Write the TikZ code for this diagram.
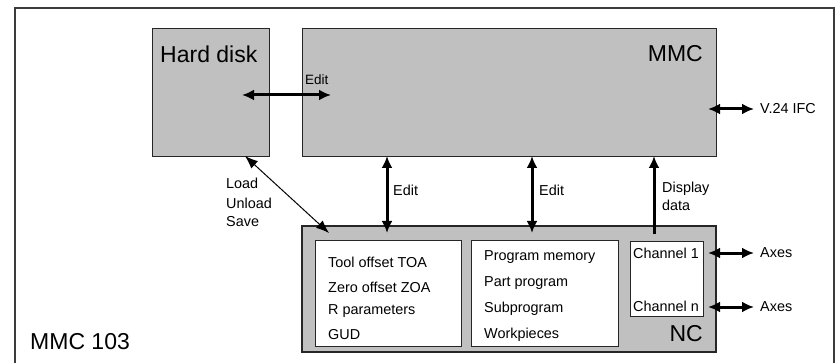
\documentclass[tikz,border=0pt]{standalone}
\usepackage{fontspec}
\setmainfont{Liberation Sans}
\usetikzlibrary{arrows.meta}
\definecolor{boxgray}{RGB}{192,192,192}
\definecolor{framegray}{RGB}{60,60,60}
\tikzset{
  graybox/.style={draw=black!85, fill=boxgray, line width=1pt},
  whitebox/.style={draw=black!85, fill=white, line width=1pt},
  bigtxt/.style={font=\fontsize{23}{26}\selectfont, inner sep=0pt},
  smalltxt/.style={font=\fontsize{14.4}{16}\selectfont, inner sep=0pt, anchor=west},
  thickarrow/.style={line width=3pt, {Latex[length=12pt,width=11pt]}-{Latex[length=12pt,width=11pt]}},
  thickone/.style={line width=3pt, -{Latex[length=12pt,width=11pt]}},
  thinarrow/.style={line width=1pt, {Latex[length=13pt,width=10pt]}-{Latex[length=13pt,width=10pt]}}
}
\begin{document}
\begin{tikzpicture}[x=1pt,y=-1pt]
\useasboundingbox (0,0) rectangle (837,363);
% outer frame
\draw[framegray, line width=1.2pt] (15,365) -- (15,8) -- (834,8) -- (834,365);

% main boxes
\node[graybox, minimum width=117pt, minimum height=128pt, inner sep=0pt] (hd) at (210.5,93) {};
\node[graybox, minimum width=414pt, minimum height=128pt, inner sep=0pt] (mmc) at (509,93) {};
\node[graybox, line width=1.3pt, minimum width=414pt, minimum height=126pt, inner sep=0pt] (nc) at (509,289) {};

% inner boxes
\node[whitebox, minimum width=146pt, minimum height=105pt, inner sep=0pt] (b1) at (388,293.5) {};
\node[whitebox, minimum width=147pt, minimum height=105pt, inner sep=0pt] (b2) at (544.5,293.5) {};
\node[whitebox, minimum width=73pt, minimum height=74pt, inner sep=0pt] (ch) at (666.5,279) {};

% big labels
\node[bigtxt, anchor=west] (hdl) at (160,54) {Hard disk};
\node[bigtxt, anchor=east] (mmcl) at (703,54) {MMC};
\node[bigtxt, anchor=east] (ncl) at (703,334) {NC};
\node[bigtxt, anchor=west] (mmc103) at (30,342) {MMC 103};

% box 1 texts
\node[smalltxt] (t1) at (328,262) {Tool offset TOA};
\node[smalltxt] (t2) at (328,287) {Zero offset ZOA};
\node[smalltxt] (t3) at (328,311) {R parameters};
\node[smalltxt] (t4) at (328,335) {GUD};
% box 2 texts
\node[smalltxt] (p1) at (484,257) {Program memory};
\node[smalltxt] (p2) at (484,283) {Part program};
\node[smalltxt] (p3) at (484,309) {Subprogram};
\node[smalltxt] (p4) at (484,335) {Workpieces};
% channel texts
\node[smalltxt] (c1) at (633,253) {Channel 1};
\node[smalltxt] (cn) at (633,306) {Channel n};

% coordinates for connectors
\coordinate (e1a) at (242,95);
\coordinate (e1b) at (331,95);
\coordinate (v24a) at (708,109);
\coordinate (v24b) at (754,109);
\coordinate (ax1a) at (708,253);
\coordinate (ax1b) at (754,253);
\coordinate (axna) at (708,307);
\coordinate (axnb) at (754,307);
\coordinate (lda) at (245,156);
\coordinate (ldb) at (329,233);
\coordinate (ed1a) at (387,156);
\coordinate (ed1b) at (387,233);
\coordinate (ed2a) at (532,156);
\coordinate (ed2b) at (532,233);
\coordinate (dda) at (654,234);
\coordinate (ddb) at (654,156);

% connectors
\draw[thickarrow] (e1a) -- (e1b);
\draw[thickarrow] (v24a) -- (v24b);
\draw[thickarrow] (ax1a) -- (ax1b);
\draw[thickarrow] (axna) -- (axnb);
\draw[thinarrow] (lda) -- (ldb);
\draw[thickarrow] (ed1a) -- (ed1b);
\draw[thickarrow] (ed2a) -- (ed2b);
\draw[thickone] (dda) -- (ddb);

% connector labels
\node[smalltxt, font=\fontsize{13.5}{15}\selectfont] (el) at (305,80) {Edit};
\node[smalltxt] (v24l) at (760,109) {V.24 IFC};
\node[smalltxt] (axl1) at (760,253) {Axes};
\node[smalltxt] (axln) at (760,307) {Axes};
\node[smalltxt] (ll1) at (226,183) {Load};
\node[smalltxt] (ll2) at (226,203) {Unload};
\node[smalltxt] (ll3) at (226,222) {Save};
\node[smalltxt] (ed1l) at (393,190) {Edit};
\node[smalltxt] (ed2l) at (539,190) {Edit};
\node[smalltxt] (ddl1) at (662,189) {Display};
\node[smalltxt] (ddl2) at (662,205) {data};
\end{tikzpicture}
\end{document}
